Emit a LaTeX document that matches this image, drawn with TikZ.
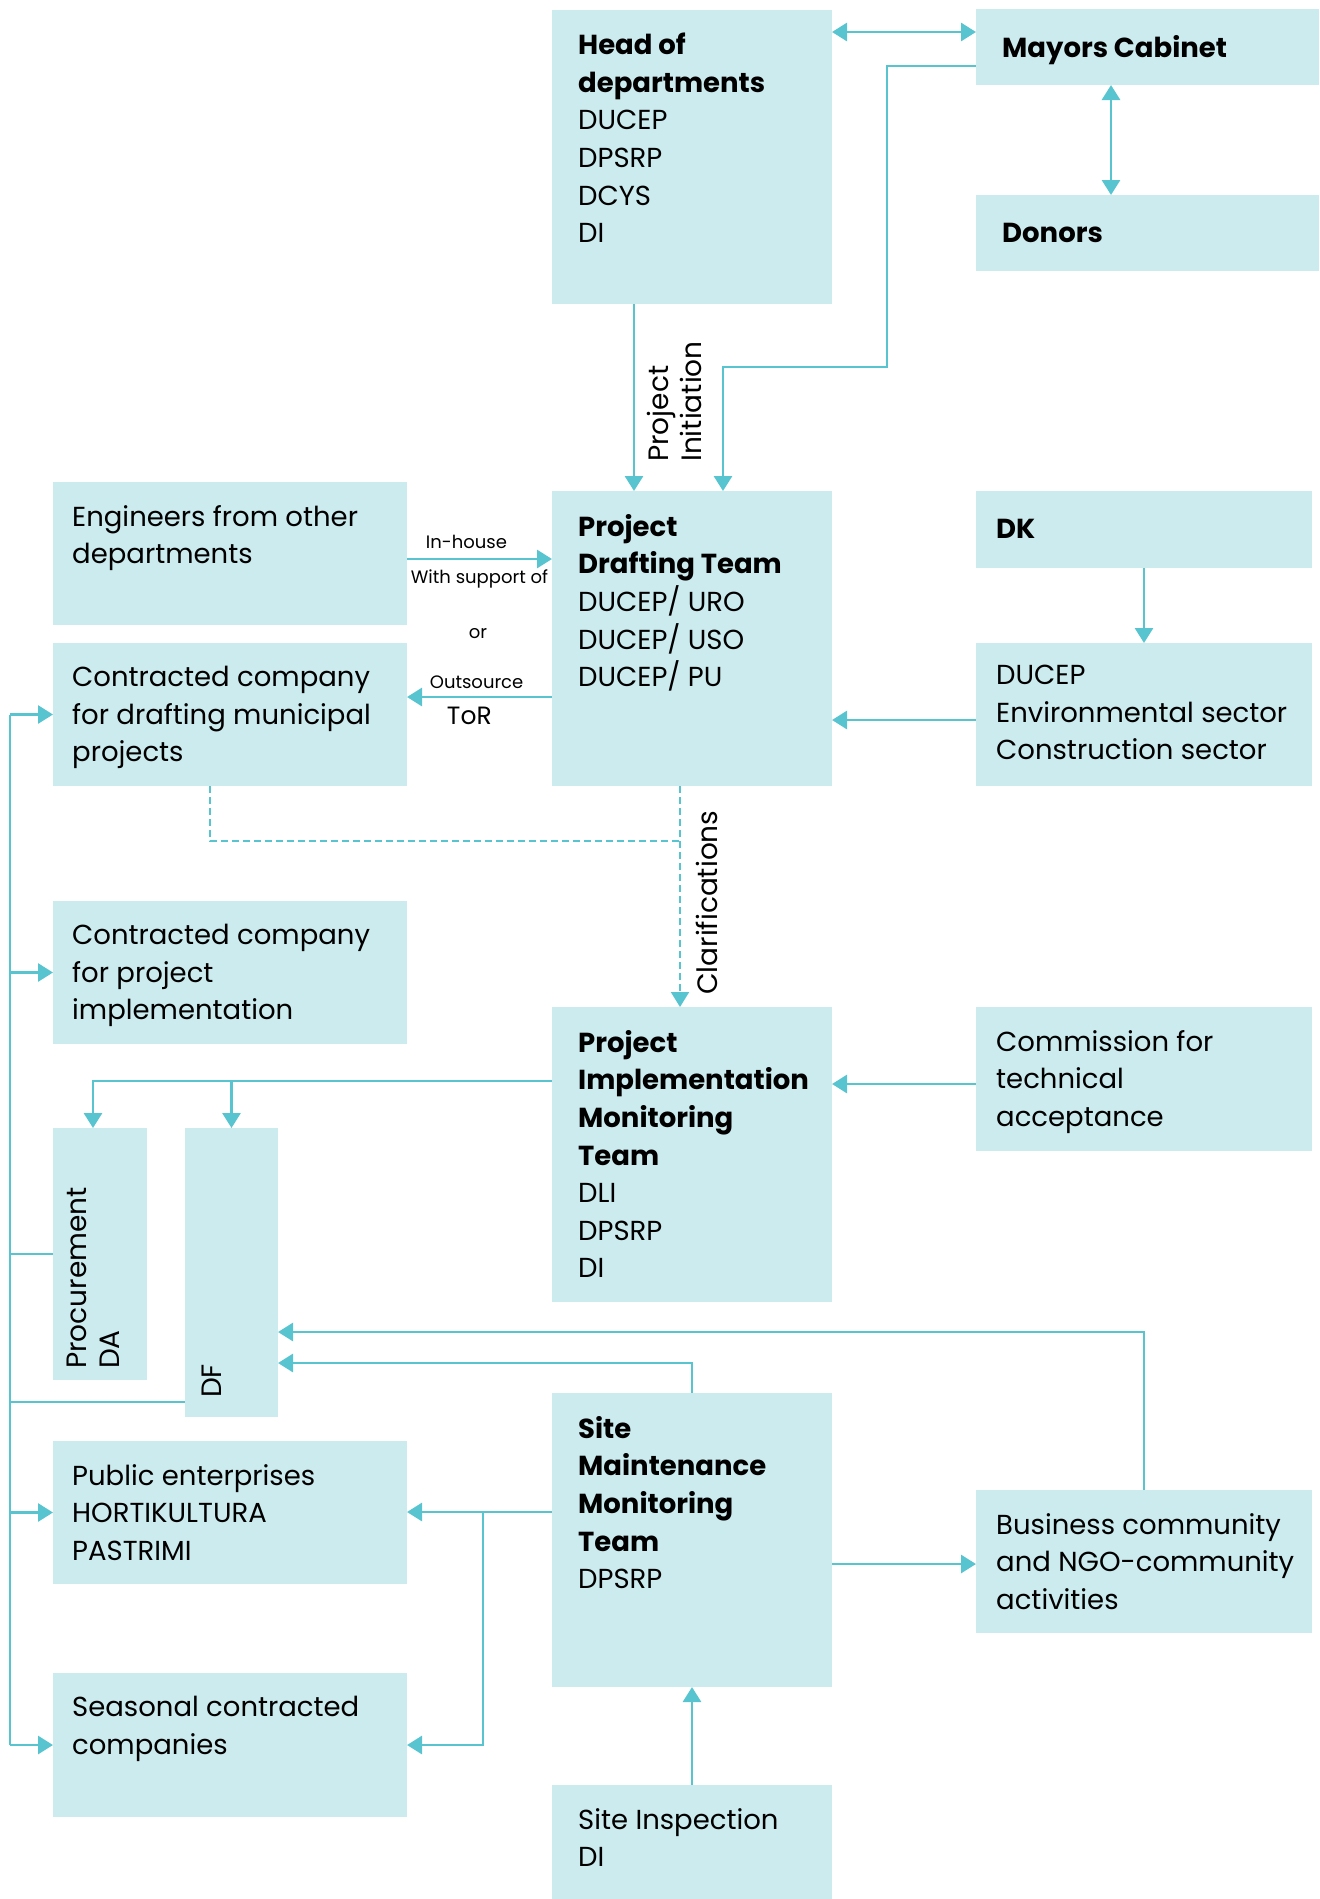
\documentclass[tikz,border=0pt]{standalone}
\usepackage{fontspec}
\setmainfont{Poppins}
\usetikzlibrary{positioning,arrows.meta}
\definecolor{boxfill}{RGB}{203,235,238}
\definecolor{linkcol}{RGB}{87,196,207}

\begin{document}
\begin{tikzpicture}[x=1pt,y=-1pt,
	box/.style={fill=boxfill, anchor=north west, inner sep=0pt, outer sep=0pt},
	txt/.style={inner sep=0pt, align=left, font=\fontsize{27.5}{37.6}\selectfont, execute at begin node={\rule{0pt}{24pt}}},
	vtxt/.style={inner sep=0pt, align=left, rotate=90, anchor=north west, font=\fontsize{28}{33}\selectfont},
	lbl/.style={inner sep=0pt, font=\fontsize{18}{22}\selectfont},
	link/.style={draw=linkcol, line width=2.8pt},
	dashline/.style={line width=2pt, dash pattern=on 7pt off 4pt},
	>={Triangle[length=15pt,width=18pt]}]
	\useasboundingbox (0,0) rectangle (1320,1899);

	\node[box, minimum width=280pt, minimum height=294pt] (hod) at (552,10) {};
	\node[box, minimum width=343pt, minimum height=76pt] (mc) at (976,9) {};
	\node[box, minimum width=343pt, minimum height=76pt] (don) at (976,195) {};
	\node[box, minimum width=280pt, minimum height=295pt] (pdt) at (552,491) {};
	\node[box, minimum width=354pt, minimum height=143pt] (eng) at (53,482) {};
	\node[box, minimum width=336pt, minimum height=77pt] (dk) at (976,491) {};
	\node[box, minimum width=336pt, minimum height=143pt] (duc) at (976,643) {};
	\node[box, minimum width=354pt, minimum height=143pt] (ccd) at (53,643) {};
	\node[box, minimum width=354pt, minimum height=143pt] (cci) at (53,901) {};
	\node[box, minimum width=280pt, minimum height=295pt] (pimt) at (552,1007) {};
	\node[box, minimum width=336pt, minimum height=144pt] (ctc) at (976,1007) {};
	\node[box, minimum width=94pt, minimum height=252pt] (proc) at (53,1128) {};
	\node[box, minimum width=93pt, minimum height=289pt] (df) at (185,1128) {};
	\node[box, minimum width=280pt, minimum height=294pt] (smmt) at (552,1393) {};
	\node[box, minimum width=354pt, minimum height=143pt] (pub) at (53,1441) {};
	\node[box, minimum width=336pt, minimum height=143pt] (biz) at (976,1490) {};
	\node[box, minimum width=354pt, minimum height=144pt] (sea) at (53,1673) {};
	\node[box, minimum width=280pt, minimum height=114pt] (site) at (552,1785) {};

	\node[txt, below right=23pt and 26pt of hod.north west] (hodt) {\textbf{Head of}\\\textbf{departments}\\DUCEP\\DPSRP\\DCYS\\DI};
	\node[txt, below right=24pt and 26pt of mc.north west] (mct) {\textbf{Mayors Cabinet}};
	\node[txt, below right=23pt and 26pt of don.north west] (dont) {\textbf{Donors}};
	\node[txt, below right=23pt and 26pt of pdt.north west] (pdtt) {\textbf{Project}\\\textbf{Drafting Team}\\DUCEP/ URO\\DUCEP/ USO\\DUCEP/ PU};
	\node[txt, below right=23pt and 19pt of eng.north west] (engt) {Engineers from other\\departments};
	\node[txt, below right=23pt and 20pt of dk.north west] (dkt) {\textbf{DK}};
	\node[txt, below right=22pt and 20pt of duc.north west] (duct) {DUCEP\\Environmental sector\\Construction sector};
	\node[txt, below right=23pt and 19pt of ccd.north west] (ccdt) {Contracted company\\for drafting municipal\\projects};
	\node[txt, below right=23pt and 19pt of cci.north west] (ccit) {Contracted company\\for project\\implementation};
	\node[txt, below right=23pt and 26pt of pimt.north west] (pimtt) {\textbf{Project}\\\textbf{Implementation}\\\textbf{Monitoring}\\\textbf{Team}\\DLI\\DPSRP\\DI};
	\node[txt, below right=23pt and 20pt of ctc.north west] (ctct) {Commission for\\technical\\acceptance};
	\node[txt, below right=23pt and 26pt of smmt.north west] (smmtt) {\textbf{Site}\\\textbf{Maintenance}\\\textbf{Monitoring}\\\textbf{Team}\\DPSRP};
	\node[txt, below right=23pt and 19pt of pub.north west] (pubt) {Public enterprises\\HORTIKULTURA\\PASTRIMI};
	\node[txt, below right=23pt and 20pt of biz.north west] (bizt) {Business community\\and NGO-community\\activities};
	\node[txt, below right=23pt and 19pt of sea.north west] (seat) {Seasonal contracted\\companies};
	\node[txt, below right=23pt and 26pt of site.north west] (sitet) {Site Inspection\\DI};

	\node[vtxt] (pinit) at (647,462) {Project\\Initiation};
	\node[vtxt] (clar) at (696,995) {Clarifications};
	\node[vtxt] (procl) at (67,1369) {Procurement\\DA};
	\node[vtxt] (dfl) at (202,1398) {DF};
	\node[lbl] (ortxt) at (478,634) {or};

	\draw[link,<->] ([yshift=-22pt]hod.north east) -- ([yshift=-23pt]mc.north west);
	\draw[link,<->] ([xshift=135pt]mc.south west) -- ([xshift=135pt]don.north west);
	\draw[link,->] ([yshift=-57pt]mc.north west) -| (887,367) -| ([xshift=171pt]pdt.north west);
	\draw[link,->] ([xshift=82pt]hod.south west) -- ([xshift=82pt]pdt.north west);
	\draw[link,->] ([yshift=-77pt]eng.north east) -- ([yshift=-68pt]pdt.north west)
		node[lbl, pos=0.41, above=9pt] (inh) {In-house}
		node[lbl, pos=0.5, below=9pt] (wsp) {With support of};
	\draw[link,->] ([yshift=-206pt]pdt.north west) -- ([yshift=-54pt]ccd.north east)
		node[lbl, pos=0.52, above=7pt] (outs) {Outsource}
		node[inner sep=0pt, pos=0.57, below=9pt, font=\fontsize{25}{30}\selectfont] (tor) {ToR};
	\draw[link,->] (dk.south) -- (duc.north);
	\draw[link,->] ([yshift=-77pt]duc.north west) -- ([yshift=-229pt]pdt.north east);

	\coordinate (clj) at ([xshift=128pt,yshift=-55pt]pdt.south west);
	\draw[link, dashline] ([xshift=157pt]ccd.south west) |- (clj);
	\draw[link, dashline, ->] ([xshift=128pt]pdt.south west) -- ([xshift=128pt]pimt.north west);

	\draw[link,->] ([yshift=-77pt]ctc.north west) -- ([yshift=-77pt]pimt.north east);
	\coordinate (pimtout) at ([yshift=-74pt]pimt.north west);
	\draw[link,->] (pimtout) -| ([xshift=-7pt]proc.north);
	\draw[link,->] (pimtout -| df.north) -- (df.north);

	\draw[link,->] (biz.north) |- ([yshift=-204pt]df.north east);
	\draw[link,->] (smmt.north) |- ([yshift=-235pt]df.north east);

	\path (ccd.west) ++(-43,0) coordinate (bus);
	\draw[link] (bus) -- (bus |- sea.west);
	\draw[link,->] (bus) -- (ccd.west);
	\draw[link,->] (bus |- cci.west) -- (cci.west);
	\draw[link,->] (bus |- pub.west) -- (pub.west);
	\draw[link,->] (bus |- sea.west) -- (sea.west);
	\draw[link] (proc.west) -- (proc.west -| bus);
	\coordinate (dfout) at ([yshift=-274pt]df.north west);
	\draw[link] (dfout) -- (dfout -| bus);

	\coordinate (smout) at ([yshift=-119pt]smmt.north west);
	\draw[link,->] (smout) -- (smout -| pub.east);
	\path (smout) ++(-69,0) coordinate (smbr);
	\draw[link,->] (smbr) |- (sea.east);
	\draw[link,->] ([yshift=-171pt]smmt.north east) -- ([yshift=-74pt]biz.north west);
	\draw[link,->] (site.north) -- (smmt.south);
\end{tikzpicture}
\end{document}
